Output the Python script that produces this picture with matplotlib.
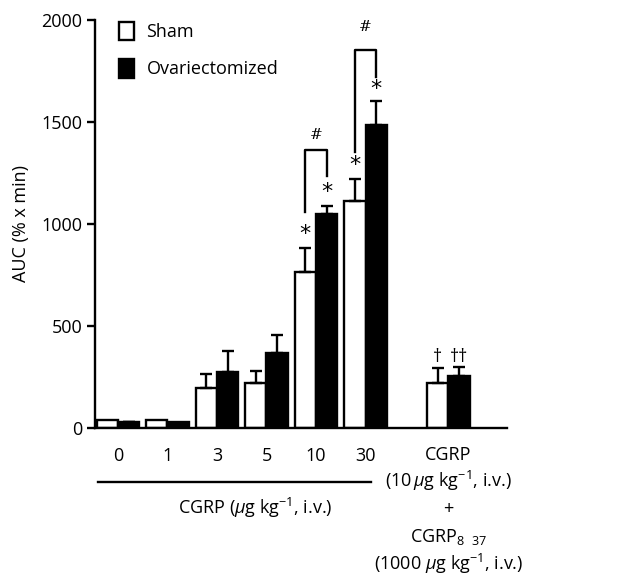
import matplotlib
matplotlib.use("Agg")
import matplotlib.pyplot as plt
from matplotlib.patches import Patch
import numpy as np

plt.rcParams['font.family'] = ['Open Sans', 'DejaVu Sans']
plt.rcParams['mathtext.fontset'] = 'custom'
plt.rcParams['mathtext.rm'] = 'Open Sans'
plt.rcParams['mathtext.it'] = 'Open Sans:italic'
plt.rcParams['mathtext.bf'] = 'Open Sans:bold'

dose_labels = ['0', '1', '3', '5', '10', '30']
group_pos = [0, 1, 2, 3, 4, 5, 6.67]
sham = [38, 38, 196, 220, 764, 1111, 220]
sham_sem = [0, 0, 66, 58, 115, 106, 71]
ovx = [26, 26, 275, 368, 1050, 1483, 253]
ovx_sem = [4, 0, 101, 86, 36, 119, 43]
yticks = [0, 500, 1000, 1500, 2000]

FS = 13
fig = plt.figure(figsize=(6.2, 5.8), dpi=100)
ax = fig.add_axes([0.153, 0.2626, 0.665, 0.7034])

w = 0.43
lw = 1.7
pos = np.array(group_pos)
xs = pos - w / 2
xo = pos + w / 2
ax.bar(xs, sham, width=w, color='white', edgecolor='black', linewidth=lw, zorder=2)
ax.bar(xo, ovx, width=w, color='black', edgecolor='black', linewidth=lw, zorder=2)
for x, v, e in zip(xs, sham, sham_sem):
    if e > 0:
        ax.errorbar([x], [v], yerr=[[0], [e]], fmt='none', ecolor='black', elinewidth=lw,
                    capsize=4, capthick=lw, zorder=3)
for x, v, e in zip(xo, ovx, ovx_sem):
    if e > 0:
        ax.errorbar([x], [v], yerr=[[0], [e]], fmt='none', ecolor='black', elinewidth=lw,
                    capsize=4, capthick=lw, zorder=3)

ax.set_xlim(-0.465, 7.86)
ax.set_ylim(0, 2000)
ax.set_yticks(yticks)
ax.set_yticklabels([str(t) for t in yticks], fontsize=FS)
ax.set_xticks([])
for s in ['top', 'right']:
    ax.spines[s].set_visible(False)
ax.spines['left'].set_linewidth(lw)
ax.spines['bottom'].set_linewidth(lw)
ax.tick_params(axis='y', length=6, width=lw, direction='out', pad=3)
ax.set_ylabel('AUC (% x min)', fontsize=FS, labelpad=8)

# stars
star_kw = dict(ha='center', va='center', fontsize=16, family='DejaVu Sans')
ax.text(xs[4], 950, '*', **star_kw)
ax.text(xo[4], 1155, '*', **star_kw)
ax.text(xs[5], 1287, '*', **star_kw)
ax.text(xo[5], 1658, '*', **star_kw)

# brackets
ax.plot([xs[4], xs[4], xo[4], xo[4]], [1058, 1360, 1360, 1233], color='black', lw=lw, clip_on=False)
ax.text(pos[4], 1433, '#', ha='center', va='center', fontsize=11, family='DejaVu Serif')
ax.plot([xs[5], xs[5], xo[5], xo[5]], [1352, 1850, 1850, 1718], color='black', lw=lw, clip_on=False)
ax.text(pos[5], 1965, '#', ha='center', va='center', fontsize=11, family='DejaVu Serif')

# daggers
ax.text(xs[6], 348, '†', ha='center', va='center', fontsize=FS)
ax.text(xo[6], 348, '††', ha='center', va='center', fontsize=FS)

# dose labels
for p, l in zip(pos[:6], dose_labels):
    ax.text(p, -140, l, ha='center', va='center', fontsize=FS)
ax.plot([-0.4, 5.12], [-265, -265], color='black', lw=lw, clip_on=False)
ax.text(2.77, -395, r'CGRP ($\mathit{\mu}$g kg$^{-1}$, i.v.)', ha='center', va='center', fontsize=FS)

ax.text(pos[6], -132, 'CGRP', ha='center', va='center', fontsize=FS)
ax.text(pos[6], -262, r'(10$\,\mathit{\mu}$g kg$^{-1}$, i.v.)', ha='center', va='center', fontsize=FS)
ax.text(pos[6], -400, '+', ha='center', va='center', fontsize=FS)
ax.text(pos[6], -535, r'CGRP$_{8\ \ 37}$', ha='center', va='center', fontsize=FS)
ax.text(pos[6], -670, r'(1000 $\mathit{\mu}$g kg$^{-1}$, i.v.)', ha='center', va='center', fontsize=FS)

handles = [Patch(facecolor='white', edgecolor='black', linewidth=lw),
           Patch(facecolor='black', edgecolor='black', linewidth=lw)]
ax.legend(handles, ['Sham', 'Ovariectomized'], loc='upper left', bbox_to_anchor=(0.018, 1.035),
          frameon=False, fontsize=FS, handlelength=0.85, handleheight=1.2, handletextpad=0.7,
          labelspacing=1.0)

fig.savefig('out.png', dpi=100)
